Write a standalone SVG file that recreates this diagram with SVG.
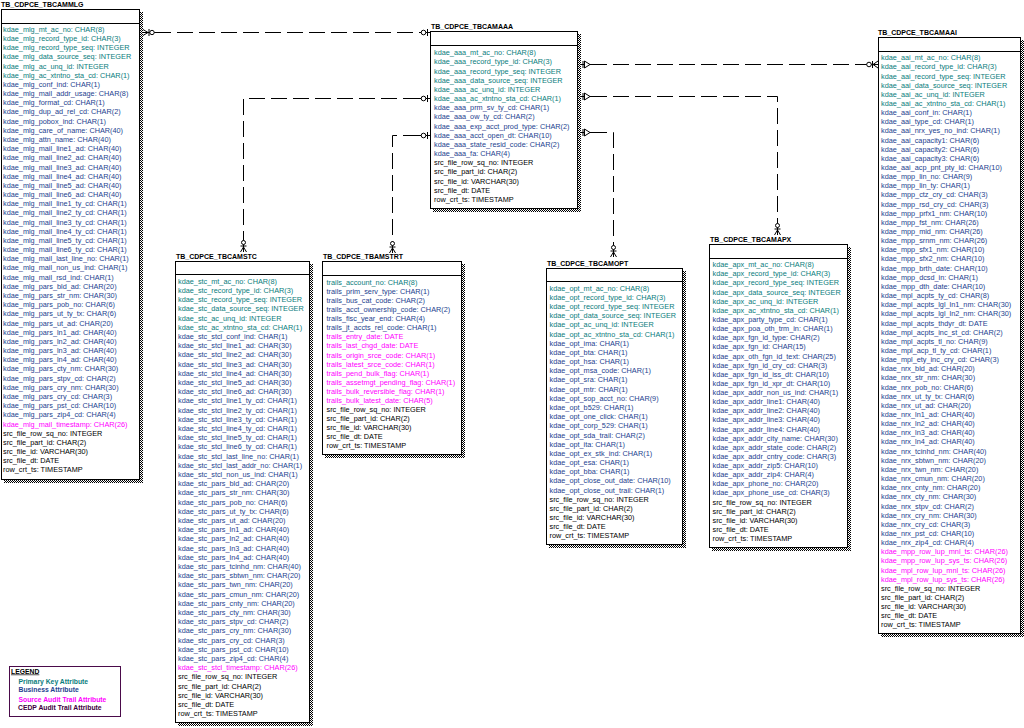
<svg xmlns="http://www.w3.org/2000/svg" width="1024" height="728" viewBox="0 0 1024 728">
<defs>
<pattern id="dots" width="2" height="2" patternUnits="userSpaceOnUse"><rect width="2" height="2" fill="#fff"/><rect width="1" height="1" fill="#000"/><rect x="1" y="1" width="1" height="1" fill="#000"/></pattern>
<style>
.t{font-family:"Liberation Sans",Arial,sans-serif;font-size:7.3px}
.title{font-family:"Liberation Sans",Arial,sans-serif;font-size:7px;font-weight:bold;fill:#000}
.pk{fill:#0a7d7d}.bz{fill:#1e3f8f}.sa{fill:#ff00ff}.ce{fill:#000}
.box{fill:#fff;stroke:#000;stroke-width:1}
.hdr{stroke:#000;stroke-width:1}
.sh{fill:url(#dots)}
.ln{fill:none;stroke:#000;stroke-width:1;stroke-dasharray:16 6}
.mk{fill:none;stroke:#000;stroke-width:1}
.mkw{fill:#fff;stroke:#000;stroke-width:1}
.lg{font-family:"Liberation Sans",Arial,sans-serif;font-size:6.8px;font-weight:bold}
</style>
</defs>
<rect width="1024" height="728" fill="#fff"/>

<g id="connectors">
<path class="ln" d="M155 32.5 H419"/>
<path class="ln" d="M419 98.5 H243.5 V240"/>
<path class="ln" d="M419 135.5 H392.5 V241"/>
<path class="ln" d="M591 64.5 H866"/>
<path class="ln" d="M591 96.5 H777.5 V223"/>
<path class="ln" d="M591 132.5 H613.5 V245"/>
<path class="mk" d="M143 29.5 L148 32.5 L143 35.5 M143 32.5 H155 M149 29 V36"/>
<circle class="mkw" cx="152" cy="32.5" r="2.2"/>
<g class="mk"><path d="M419 32.5 H431 M427.5 29 V36"/><circle class="mkw" cx="423.5" cy="32.5" r="2.3"/></g>
<g class="mk"><path d="M419 98.5 H431 M427.5 95 V102"/><circle class="mkw" cx="423.5" cy="98.5" r="2.3"/></g>
<g class="mk"><path d="M419 135.5 H431 M427.5 132 V139"/><circle class="mkw" cx="423.5" cy="135.5" r="2.3"/></g>
<g class="mk"><path d="M581 64.5 H592 M583 61 V68"/><path class="mkw" d="M584.5 61 L590 64.5 L584.5 68 Z"/></g>
<g class="mk"><path d="M581 96.5 H592 M583 93 V100"/><path class="mkw" d="M584.5 93 L590 96.5 L584.5 100 Z"/></g>
<g class="mk"><path d="M581 132.5 H592 M583 129 V136"/><path class="mkw" d="M584.5 129 L590 132.5 L584.5 136 Z"/></g>
<path class="mk" d="M866 64.5 H878 M873 64.5 L878 61 M873 64.5 L878 68 M872.5 61 V68"/>
<circle class="mkw" cx="869" cy="64.5" r="2.3"/>
<path class="mk" d="M243.5 240 V252 M243.5 247 L240.5 252 M243.5 247 L246.5 252 M240.5 246 H246.5"/>
<circle class="mkw" cx="243.5" cy="242.5" r="2"/>
<path class="mk" d="M392.5 241 V253 M392.5 248 L389.5 253 M392.5 248 L395.5 253 M389.5 247 H395.5"/>
<circle class="mkw" cx="392.5" cy="243.5" r="2"/>
<path class="mk" d="M613.5 245 V257 M613.5 252 L610.5 257 M613.5 252 L616.5 257 M610.5 251 H616.5"/>
<circle class="mkw" cx="613.5" cy="247.5" r="2"/>
<path class="mk" d="M777.5 223 V235 M777.5 230 L774.5 235 M777.5 230 L780.5 235 M774.5 229 H780.5"/>
<circle class="mkw" cx="777.5" cy="225.5" r="2"/>
</g>

<g id="tbl-mlg">
<text class="title" x="1" y="7">TB_CDPCE_TBCAMMLG</text>
<rect class="sh" x="140" y="12" width="3" height="471"/><rect class="sh" x="4" y="480" width="139" height="3"/>
<rect class="box" x="1.5" y="9.5" width="138" height="470"/>
<line class="hdr" x1="1.5" y1="23.5" x2="139.5" y2="23.5"/>
<text class="t" x="3" y="31.8">
<tspan class="pk" x="3">kdae_mlg_mt_ac_no: CHAR(8)</tspan>
<tspan class="pk" x="3" dy="9.18">kdae_mlg_record_type_id: CHAR(3)</tspan>
<tspan class="pk" x="3" dy="9.18">kdae_mlg_record_type_seq: INTEGER</tspan>
<tspan class="pk" x="3" dy="9.18">kdae_mlg_data_source_seq: INTEGER</tspan>
<tspan class="pk" x="3" dy="9.18">kdae_mlg_ac_unq_id: INTEGER</tspan>
<tspan class="pk" x="3" dy="9.18">kdae_mlg_ac_xtntno_sta_cd: CHAR(1)</tspan>
<tspan class="bz" x="3" dy="9.18">kdae_mlg_conf_ind: CHAR(1)</tspan>
<tspan class="bz" x="3" dy="9.18">kdae_mlg_mail_addr_usage: CHAR(8)</tspan>
<tspan class="bz" x="3" dy="9.18">kdae_mlg_format_cd: CHAR(1)</tspan>
<tspan class="bz" x="3" dy="9.18">kdae_mlg_dup_ad_rel_cd: CHAR(2)</tspan>
<tspan class="bz" x="3" dy="9.18">kdae_mlg_pobox_ind: CHAR(1)</tspan>
<tspan class="bz" x="3" dy="9.18">kdae_mlg_care_of_name: CHAR(40)</tspan>
<tspan class="bz" x="3" dy="9.18">kdae_mlg_attn_name: CHAR(40)</tspan>
<tspan class="bz" x="3" dy="9.18">kdae_mlg_mail_line1_ad: CHAR(40)</tspan>
<tspan class="bz" x="3" dy="9.18">kdae_mlg_mail_line2_ad: CHAR(40)</tspan>
<tspan class="bz" x="3" dy="9.18">kdae_mlg_mail_line3_ad: CHAR(40)</tspan>
<tspan class="bz" x="3" dy="9.18">kdae_mlg_mail_line4_ad: CHAR(40)</tspan>
<tspan class="bz" x="3" dy="9.18">kdae_mlg_mail_line5_ad: CHAR(40)</tspan>
<tspan class="bz" x="3" dy="9.18">kdae_mlg_mail_line6_ad: CHAR(40)</tspan>
<tspan class="bz" x="3" dy="9.18">kdae_mlg_mail_line1_ty_cd: CHAR(1)</tspan>
<tspan class="bz" x="3" dy="9.18">kdae_mlg_mail_line2_ty_cd: CHAR(1)</tspan>
<tspan class="bz" x="3" dy="9.18">kdae_mlg_mail_line3_ty_cd: CHAR(1)</tspan>
<tspan class="bz" x="3" dy="9.18">kdae_mlg_mail_line4_ty_cd: CHAR(1)</tspan>
<tspan class="bz" x="3" dy="9.18">kdae_mlg_mail_line5_ty_cd: CHAR(1)</tspan>
<tspan class="bz" x="3" dy="9.18">kdae_mlg_mail_line6_ty_cd: CHAR(1)</tspan>
<tspan class="bz" x="3" dy="9.18">kdae_mlg_mail_last_line_no: CHAR(1)</tspan>
<tspan class="bz" x="3" dy="9.18">kdae_mlg_mail_non_us_ind: CHAR(1)</tspan>
<tspan class="bz" x="3" dy="9.18">kdae_mlg_mail_rsd_ind: CHAR(1)</tspan>
<tspan class="bz" x="3" dy="9.18">kdae_mlg_pars_bld_ad: CHAR(20)</tspan>
<tspan class="bz" x="3" dy="9.18">kdae_mlg_pars_str_nm: CHAR(30)</tspan>
<tspan class="bz" x="3" dy="9.18">kdae_mlg_pars_pob_no: CHAR(6)</tspan>
<tspan class="bz" x="3" dy="9.18">kdae_mlg_pars_ut_ty_tx: CHAR(6)</tspan>
<tspan class="bz" x="3" dy="9.18">kdae_mlg_pars_ut_ad: CHAR(20)</tspan>
<tspan class="bz" x="3" dy="9.18">kdae_mlg_pars_ln1_ad: CHAR(40)</tspan>
<tspan class="bz" x="3" dy="9.18">kdae_mlg_pars_ln2_ad: CHAR(40)</tspan>
<tspan class="bz" x="3" dy="9.18">kdae_mlg_pars_ln3_ad: CHAR(40)</tspan>
<tspan class="bz" x="3" dy="9.18">kdae_mlg_pars_ln4_ad: CHAR(40)</tspan>
<tspan class="bz" x="3" dy="9.18">kdae_mlg_pars_cty_nm: CHAR(30)</tspan>
<tspan class="bz" x="3" dy="9.18">kdae_mlg_pars_stpv_cd: CHAR(2)</tspan>
<tspan class="bz" x="3" dy="9.18">kdae_mlg_pars_cry_nm: CHAR(30)</tspan>
<tspan class="bz" x="3" dy="9.18">kdae_mlg_pars_cry_cd: CHAR(3)</tspan>
<tspan class="bz" x="3" dy="9.18">kdae_mlg_pars_pst_cd: CHAR(10)</tspan>
<tspan class="bz" x="3" dy="9.18">kdae_mlg_pars_zip4_cd: CHAR(4)</tspan>
<tspan class="sa" x="3" dy="9.18">kdae_mlg_mail_timestamp: CHAR(26)</tspan>
<tspan class="ce" x="3" dy="9.18">src_file_row_sq_no: INTEGER</tspan>
<tspan class="ce" x="3" dy="9.18">src_file_part_id: CHAR(2)</tspan>
<tspan class="ce" x="3" dy="9.18">src_file_id: VARCHAR(30)</tspan>
<tspan class="ce" x="3" dy="9.18">src_file_dt: DATE</tspan>
<tspan class="ce" x="3" dy="9.18">row_crt_ts: TIMESTAMP</tspan>
</text>
</g>

<g id="tbl-aaa">
<text class="title" x="431" y="28.5">TB_CDPCE_TBCAMAAA</text>
<rect class="sh" x="578" y="34" width="3" height="178"/><rect class="sh" x="433" y="209" width="148" height="3"/>
<rect class="box" x="430.5" y="31.5" width="147" height="177"/>
<line class="hdr" x1="430.5" y1="45.5" x2="577.5" y2="45.5"/>
<text class="t" x="434" y="55.2">
<tspan class="pk" x="434">kdae_aaa_mt_ac_no: CHAR(8)</tspan>
<tspan class="pk" x="434" dy="9.17">kdae_aaa_record_type_id: CHAR(3)</tspan>
<tspan class="pk" x="434" dy="9.17">kdae_aaa_record_type_seq: INTEGER</tspan>
<tspan class="pk" x="434" dy="9.17">kdae_aaa_data_source_seq: INTEGER</tspan>
<tspan class="pk" x="434" dy="9.17">kdae_aaa_ac_unq_id: INTEGER</tspan>
<tspan class="pk" x="434" dy="9.17">kdae_aaa_ac_xtntno_sta_cd: CHAR(1)</tspan>
<tspan class="bz" x="434" dy="9.17">kdae_aaa_prm_sv_ty_cd: CHAR(1)</tspan>
<tspan class="bz" x="434" dy="9.17">kdae_aaa_ow_ty_cd: CHAR(2)</tspan>
<tspan class="bz" x="434" dy="9.17">kdae_aaa_exp_acct_prod_type: CHAR(2)</tspan>
<tspan class="bz" x="434" dy="9.17">kdae_aaa_acct_open_dt: CHAR(10)</tspan>
<tspan class="bz" x="434" dy="9.17">kdae_aaa_state_resid_code: CHAR(2)</tspan>
<tspan class="bz" x="434" dy="9.17">kdae_aaa_fa: CHAR(4)</tspan>
<tspan class="ce" x="434" dy="9.17">src_file_row_sq_no: INTEGER</tspan>
<tspan class="ce" x="434" dy="9.17">src_file_part_id: CHAR(2)</tspan>
<tspan class="ce" x="434" dy="9.17">src_file_id: VARCHAR(30)</tspan>
<tspan class="ce" x="434" dy="9.17">src_file_dt: DATE</tspan>
<tspan class="ce" x="434" dy="9.17">row_crt_ts: TIMESTAMP</tspan>
</text>
</g>

<g id="tbl-aai">
<text class="title" x="878" y="34.5">TB_CDPCE_TBCAMAAI</text>
<rect class="sh" x="1021" y="40" width="3" height="597"/><rect class="sh" x="881" y="634" width="143" height="3"/>
<rect class="box" x="878.5" y="37.5" width="142" height="596"/>
<line class="hdr" x1="878.5" y1="51.5" x2="1020.5" y2="51.5"/>
<text class="t" x="881" y="60.2">
<tspan class="pk" x="881">kdae_aai_mt_ac_no: CHAR(8)</tspan>
<tspan class="pk" x="881" dy="9.15">kdae_aai_record_type_id: CHAR(3)</tspan>
<tspan class="pk" x="881" dy="9.15">kdae_aai_record_type_seq: INTEGER</tspan>
<tspan class="pk" x="881" dy="9.15">kdae_aai_data_source_seq: INTEGER</tspan>
<tspan class="pk" x="881" dy="9.15">kdae_aai_ac_unq_id: INTEGER</tspan>
<tspan class="pk" x="881" dy="9.15">kdae_aai_ac_xtntno_sta_cd: CHAR(1)</tspan>
<tspan class="bz" x="881" dy="9.15">kdae_aai_conf_in: CHAR(1)</tspan>
<tspan class="bz" x="881" dy="9.15">kdae_aai_type_cd: CHAR(1)</tspan>
<tspan class="bz" x="881" dy="9.15">kdae_aai_nrx_yes_no_ind: CHAR(1)</tspan>
<tspan class="bz" x="881" dy="9.15">kdae_aai_capacity1: CHAR(6)</tspan>
<tspan class="bz" x="881" dy="9.15">kdae_aai_capacity2: CHAR(6)</tspan>
<tspan class="bz" x="881" dy="9.15">kdae_aai_capacity3: CHAR(6)</tspan>
<tspan class="bz" x="881" dy="9.15">kdae_aai_acp_pnt_pty_id: CHAR(10)</tspan>
<tspan class="bz" x="881" dy="9.15">kdae_mpp_lin_no: CHAR(9)</tspan>
<tspan class="bz" x="881" dy="9.15">kdae_mpp_lin_ty: CHAR(1)</tspan>
<tspan class="bz" x="881" dy="9.15">kdae_mpp_ctz_cry_cd: CHAR(3)</tspan>
<tspan class="bz" x="881" dy="9.15">kdae_mpp_rsd_cry_cd: CHAR(3)</tspan>
<tspan class="bz" x="881" dy="9.15">kdae_mpp_prfx1_nm: CHAR(10)</tspan>
<tspan class="bz" x="881" dy="9.15">kdae_mpp_fst_nm: CHAR(26)</tspan>
<tspan class="bz" x="881" dy="9.15">kdae_mpp_mid_nm: CHAR(26)</tspan>
<tspan class="bz" x="881" dy="9.15">kdae_mpp_srnm_nm: CHAR(26)</tspan>
<tspan class="bz" x="881" dy="9.15">kdae_mpp_sfx1_nm: CHAR(10)</tspan>
<tspan class="bz" x="881" dy="9.15">kdae_mpp_sfx2_nm: CHAR(10)</tspan>
<tspan class="bz" x="881" dy="9.15">kdae_mpp_brth_date: CHAR(10)</tspan>
<tspan class="bz" x="881" dy="9.15">kdae_mpp_dcsd_in: CHAR(1)</tspan>
<tspan class="bz" x="881" dy="9.15">kdae_mpp_dth_date: CHAR(10)</tspan>
<tspan class="bz" x="881" dy="9.15">kdae_mpl_acpts_ty_cd: CHAR(8)</tspan>
<tspan class="bz" x="881" dy="9.15">kdae_mpl_acpts_lgl_ln1_nm: CHAR(30)</tspan>
<tspan class="bz" x="881" dy="9.15">kdae_mpl_acpts_lgl_ln2_nm: CHAR(30)</tspan>
<tspan class="bz" x="881" dy="9.15">kdae_mpl_acpts_thdyr_dt: DATE</tspan>
<tspan class="bz" x="881" dy="9.15">kdae_mpl_acpts_inc_st_cd: CHAR(2)</tspan>
<tspan class="bz" x="881" dy="9.15">kdae_mpl_acpts_tl_no: CHAR(9)</tspan>
<tspan class="bz" x="881" dy="9.15">kdae_mpl_acp_tl_ty_cd: CHAR(1)</tspan>
<tspan class="bz" x="881" dy="9.15">kdae_mpl_ety_inc_cry_cd: CHAR(3)</tspan>
<tspan class="bz" x="881" dy="9.15">kdae_nrx_bld_ad: CHAR(20)</tspan>
<tspan class="bz" x="881" dy="9.15">kdae_nrx_str_nm: CHAR(30)</tspan>
<tspan class="bz" x="881" dy="9.15">kdae_nrx_pob_no: CHAR(6)</tspan>
<tspan class="bz" x="881" dy="9.15">kdae_nrx_ut_ty_tx: CHAR(6)</tspan>
<tspan class="bz" x="881" dy="9.15">kdae_nrx_ut_ad: CHAR(20)</tspan>
<tspan class="bz" x="881" dy="9.15">kdae_nrx_ln1_ad: CHAR(40)</tspan>
<tspan class="bz" x="881" dy="9.15">kdae_nrx_ln2_ad: CHAR(40)</tspan>
<tspan class="bz" x="881" dy="9.15">kdae_nrx_ln3_ad: CHAR(40)</tspan>
<tspan class="bz" x="881" dy="9.15">kdae_nrx_ln4_ad: CHAR(40)</tspan>
<tspan class="bz" x="881" dy="9.15">kdae_nrx_tcinhd_nm: CHAR(40)</tspan>
<tspan class="bz" x="881" dy="9.15">kdae_nrx_sbtwn_nm: CHAR(20)</tspan>
<tspan class="bz" x="881" dy="9.15">kdae_nrx_twn_nm: CHAR(20)</tspan>
<tspan class="bz" x="881" dy="9.15">kdae_nrx_cmun_nm: CHAR(20)</tspan>
<tspan class="bz" x="881" dy="9.15">kdae_nrx_cnty_nm: CHAR(20)</tspan>
<tspan class="bz" x="881" dy="9.15">kdae_nrx_cty_nm: CHAR(30)</tspan>
<tspan class="bz" x="881" dy="9.15">kdae_nrx_stpv_cd: CHAR(2)</tspan>
<tspan class="bz" x="881" dy="9.15">kdae_nrx_cry_nm: CHAR(30)</tspan>
<tspan class="bz" x="881" dy="9.15">kdae_nrx_cry_cd: CHAR(3)</tspan>
<tspan class="bz" x="881" dy="9.15">kdae_nrx_pst_cd: CHAR(10)</tspan>
<tspan class="bz" x="881" dy="9.15">kdae_nrx_zip4_cd: CHAR(4)</tspan>
<tspan class="sa" x="881" dy="9.15">kdae_mpp_row_lup_mnl_ts: CHAR(26)</tspan>
<tspan class="sa" x="881" dy="9.15">kdae_mpp_row_lup_sys_ts: CHAR(26)</tspan>
<tspan class="sa" x="881" dy="9.15">kdae_mpl_row_lup_mnl_ts: CHAR(26)</tspan>
<tspan class="sa" x="881" dy="9.15">kdae_mpl_row_lup_sys_ts: CHAR(26)</tspan>
<tspan class="ce" x="881" dy="9.15">src_file_row_sq_no: INTEGER</tspan>
<tspan class="ce" x="881" dy="9.15">src_file_part_id: CHAR(2)</tspan>
<tspan class="ce" x="881" dy="9.15">src_file_id: VARCHAR(30)</tspan>
<tspan class="ce" x="881" dy="9.15">src_file_dt: DATE</tspan>
<tspan class="ce" x="881" dy="9.15">row_crt_ts: TIMESTAMP</tspan>
</text>
</g>

<g id="tbl-stc">
<text class="title" x="176" y="258.5">TB_CDPCE_TBCAMSTC</text>
<rect class="sh" x="310" y="264" width="3" height="462"/><rect class="sh" x="178" y="723" width="135" height="3"/>
<rect class="box" x="175.5" y="261.5" width="134" height="461"/>
<line class="hdr" x1="175.5" y1="274.5" x2="309.5" y2="274.5"/>
<text class="t" x="178" y="283.8">
<tspan class="pk" x="178">kdae_stc_mt_ac_no: CHAR(8)</tspan>
<tspan class="pk" x="178" dy="9.2">kdae_stc_record_type_id: CHAR(3)</tspan>
<tspan class="pk" x="178" dy="9.2">kdae_stc_record_type_seq: INTEGER</tspan>
<tspan class="pk" x="178" dy="9.2">kdae_stc_data_source_seq: INTEGER</tspan>
<tspan class="pk" x="178" dy="9.2">kdae_stc_ac_unq_id: INTEGER</tspan>
<tspan class="pk" x="178" dy="9.2">kdae_stc_ac_xtntno_sta_cd: CHAR(1)</tspan>
<tspan class="bz" x="178" dy="9.2">kdae_stc_stcl_conf_ind: CHAR(1)</tspan>
<tspan class="bz" x="178" dy="9.2">kdae_stc_stcl_line1_ad: CHAR(30)</tspan>
<tspan class="bz" x="178" dy="9.2">kdae_stc_stcl_line2_ad: CHAR(30)</tspan>
<tspan class="bz" x="178" dy="9.2">kdae_stc_stcl_line3_ad: CHAR(30)</tspan>
<tspan class="bz" x="178" dy="9.2">kdae_stc_stcl_line4_ad: CHAR(30)</tspan>
<tspan class="bz" x="178" dy="9.2">kdae_stc_stcl_line5_ad: CHAR(30)</tspan>
<tspan class="bz" x="178" dy="9.2">kdae_stc_stcl_line6_ad: CHAR(30)</tspan>
<tspan class="bz" x="178" dy="9.2">kdae_stc_stcl_line1_ty_cd: CHAR(1)</tspan>
<tspan class="bz" x="178" dy="9.2">kdae_stc_stcl_line2_ty_cd: CHAR(1)</tspan>
<tspan class="bz" x="178" dy="9.2">kdae_stc_stcl_line3_ty_cd: CHAR(1)</tspan>
<tspan class="bz" x="178" dy="9.2">kdae_stc_stcl_line4_ty_cd: CHAR(1)</tspan>
<tspan class="bz" x="178" dy="9.2">kdae_stc_stcl_line5_ty_cd: CHAR(1)</tspan>
<tspan class="bz" x="178" dy="9.2">kdae_stc_stcl_line6_ty_cd: CHAR(1)</tspan>
<tspan class="bz" x="178" dy="9.2">kdae_stc_stcl_last_line_no: CHAR(1)</tspan>
<tspan class="bz" x="178" dy="9.2">kdae_stc_stcl_last_addr_no: CHAR(1)</tspan>
<tspan class="bz" x="178" dy="9.2">kdae_stc_stcl_non_us_ind: CHAR(1)</tspan>
<tspan class="bz" x="178" dy="9.2">kdae_stc_pars_bld_ad: CHAR(20)</tspan>
<tspan class="bz" x="178" dy="9.2">kdae_stc_pars_str_nm: CHAR(30)</tspan>
<tspan class="bz" x="178" dy="9.2">kdae_stc_pars_pob_no: CHAR(6)</tspan>
<tspan class="bz" x="178" dy="9.2">kdae_stc_pars_ut_ty_tx: CHAR(6)</tspan>
<tspan class="bz" x="178" dy="9.2">kdae_stc_pars_ut_ad: CHAR(20)</tspan>
<tspan class="bz" x="178" dy="9.2">kdae_stc_pars_ln1_ad: CHAR(40)</tspan>
<tspan class="bz" x="178" dy="9.2">kdae_stc_pars_ln2_ad: CHAR(40)</tspan>
<tspan class="bz" x="178" dy="9.2">kdae_stc_pars_ln3_ad: CHAR(40)</tspan>
<tspan class="bz" x="178" dy="9.2">kdae_stc_pars_ln4_ad: CHAR(40)</tspan>
<tspan class="bz" x="178" dy="9.2">kdae_stc_pars_tcinhd_nm: CHAR(40)</tspan>
<tspan class="bz" x="178" dy="9.2">kdae_stc_pars_sbtwn_nm: CHAR(20)</tspan>
<tspan class="bz" x="178" dy="9.2">kdae_stc_pars_twn_nm: CHAR(20)</tspan>
<tspan class="bz" x="178" dy="9.2">kdae_stc_pars_cmun_nm: CHAR(20)</tspan>
<tspan class="bz" x="178" dy="9.2">kdae_stc_pars_cnty_nm: CHAR(20)</tspan>
<tspan class="bz" x="178" dy="9.2">kdae_stc_pars_cty_nm: CHAR(30)</tspan>
<tspan class="bz" x="178" dy="9.2">kdae_stc_pars_stpv_cd: CHAR(2)</tspan>
<tspan class="bz" x="178" dy="9.2">kdae_stc_pars_cry_nm: CHAR(30)</tspan>
<tspan class="bz" x="178" dy="9.2">kdae_stc_pars_cry_cd: CHAR(3)</tspan>
<tspan class="bz" x="178" dy="9.2">kdae_stc_pars_pst_cd: CHAR(10)</tspan>
<tspan class="bz" x="178" dy="9.2">kdae_stc_pars_zip4_cd: CHAR(4)</tspan>
<tspan class="sa" x="178" dy="9.2">kdae_stc_stcl_timestamp: CHAR(26)</tspan>
<tspan class="ce" x="178" dy="9.2">src_file_row_sq_no: INTEGER</tspan>
<tspan class="ce" x="178" dy="9.2">src_file_part_id: CHAR(2)</tspan>
<tspan class="ce" x="178" dy="9.2">src_file_id: VARCHAR(30)</tspan>
<tspan class="ce" x="178" dy="9.2">src_file_dt: DATE</tspan>
<tspan class="ce" x="178" dy="9.2">row_crt_ts: TIMESTAMP</tspan>
</text>
</g>

<g id="tbl-strt">
<text class="title" x="323" y="258.5">TB_CDPCE_TBAMSTRT</text>
<rect class="sh" x="462" y="264" width="3" height="194"/><rect class="sh" x="325" y="455" width="140" height="3"/>
<rect class="box" x="322.5" y="261.5" width="139" height="193"/>
<line class="hdr" x1="322.5" y1="275.5" x2="461.5" y2="275.5"/>
<text class="t" x="326.5" y="284.8">
<tspan class="pk" x="326.5">trails_account_no: CHAR(8)</tspan>
<tspan class="bz" x="326.5" dy="9.09">trails_prim_serv_type: CHAR(1)</tspan>
<tspan class="bz" x="326.5" dy="9.09">trails_bus_cat_code: CHAR(2)</tspan>
<tspan class="bz" x="326.5" dy="9.09">trails_acct_ownership_code: CHAR(2)</tspan>
<tspan class="bz" x="326.5" dy="9.09">trails_fisc_year_end: CHAR(4)</tspan>
<tspan class="bz" x="326.5" dy="9.09">trails_jt_accts_rel_code: CHAR(1)</tspan>
<tspan class="sa" x="326.5" dy="9.09">trails_entry_date: DATE</tspan>
<tspan class="sa" x="326.5" dy="9.09">trails_last_chgd_date: DATE</tspan>
<tspan class="sa" x="326.5" dy="9.09">trails_origin_srce_code: CHAR(1)</tspan>
<tspan class="sa" x="326.5" dy="9.09">trails_latest_srce_code: CHAR(1)</tspan>
<tspan class="sa" x="326.5" dy="9.09">trails_pend_bulk_flag: CHAR(1)</tspan>
<tspan class="sa" x="326.5" dy="9.09">trails_assetmgt_pending_flag: CHAR(1)</tspan>
<tspan class="sa" x="326.5" dy="9.09">trails_bulk_reversible_flag: CHAR(1)</tspan>
<tspan class="sa" x="326.5" dy="9.09">trails_bulk_latest_date: CHAR(5)</tspan>
<tspan class="ce" x="326.5" dy="9.09">src_file_row_sq_no: INTEGER</tspan>
<tspan class="ce" x="326.5" dy="9.09">src_file_part_id: CHAR(2)</tspan>
<tspan class="ce" x="326.5" dy="9.09">src_file_id: VARCHAR(30)</tspan>
<tspan class="ce" x="326.5" dy="9.09">src_file_dt: DATE</tspan>
<tspan class="ce" x="326.5" dy="9.09">row_crt_ts: TIMESTAMP</tspan>
</text>
</g>

<g id="tbl-opt">
<text class="title" x="547" y="265.8">TB_CDPCE_TBCAMOPT</text>
<rect class="sh" x="683" y="271" width="3" height="277"/><rect class="sh" x="549" y="545" width="137" height="3"/>
<rect class="box" x="546.5" y="268.5" width="136" height="276"/>
<line class="hdr" x1="546.5" y1="281.5" x2="682.5" y2="281.5"/>
<text class="t" x="549.5" y="290.8">
<tspan class="pk" x="549.5">kdae_opt_mt_ac_no: CHAR(8)</tspan>
<tspan class="pk" x="549.5" dy="9.17">kdae_opt_record_type_id: CHAR(3)</tspan>
<tspan class="pk" x="549.5" dy="9.17">kdae_opt_record_type_seq: INTEGER</tspan>
<tspan class="pk" x="549.5" dy="9.17">kdae_opt_data_source_seq: INTEGER</tspan>
<tspan class="pk" x="549.5" dy="9.17">kdae_opt_ac_unq_id: INTEGER</tspan>
<tspan class="pk" x="549.5" dy="9.17">kdae_opt_ac_xtntno_sta_cd: CHAR(1)</tspan>
<tspan class="bz" x="549.5" dy="9.17">kdae_opt_ima: CHAR(1)</tspan>
<tspan class="bz" x="549.5" dy="9.17">kdae_opt_bta: CHAR(1)</tspan>
<tspan class="bz" x="549.5" dy="9.17">kdae_opt_hsa: CHAR(1)</tspan>
<tspan class="bz" x="549.5" dy="9.17">kdae_opt_msa_code: CHAR(1)</tspan>
<tspan class="bz" x="549.5" dy="9.17">kdae_opt_sra: CHAR(1)</tspan>
<tspan class="bz" x="549.5" dy="9.17">kdae_opt_mtr: CHAR(1)</tspan>
<tspan class="bz" x="549.5" dy="9.17">kdae_opt_sop_acct_no: CHAR(9)</tspan>
<tspan class="bz" x="549.5" dy="9.17">kdae_opt_b529: CHAR(1)</tspan>
<tspan class="bz" x="549.5" dy="9.17">kdae_opt_one_click: CHAR(1)</tspan>
<tspan class="bz" x="549.5" dy="9.17">kdae_opt_corp_529: CHAR(1)</tspan>
<tspan class="bz" x="549.5" dy="9.17">kdae_opt_sda_trail: CHAR(2)</tspan>
<tspan class="bz" x="549.5" dy="9.17">kdae_opt_ita: CHAR(1)</tspan>
<tspan class="bz" x="549.5" dy="9.17">kdae_opt_ex_stk_ind: CHAR(1)</tspan>
<tspan class="bz" x="549.5" dy="9.17">kdae_opt_esa: CHAR(1)</tspan>
<tspan class="bz" x="549.5" dy="9.17">kdae_opt_bba: CHAR(1)</tspan>
<tspan class="bz" x="549.5" dy="9.17">kdae_opt_close_out_date: CHAR(10)</tspan>
<tspan class="bz" x="549.5" dy="9.17">kdae_opt_close_out_trail: CHAR(1)</tspan>
<tspan class="ce" x="549.5" dy="9.17">src_file_row_sq_no: INTEGER</tspan>
<tspan class="ce" x="549.5" dy="9.17">src_file_part_id: CHAR(2)</tspan>
<tspan class="ce" x="549.5" dy="9.17">src_file_id: VARCHAR(30)</tspan>
<tspan class="ce" x="549.5" dy="9.17">src_file_dt: DATE</tspan>
<tspan class="ce" x="549.5" dy="9.17">row_crt_ts: TIMESTAMP</tspan>
</text>
</g>

<g id="tbl-apx">
<text class="title" x="710" y="241.8">TB_CDPCE_TBCAMAPX</text>
<rect class="sh" x="848" y="247" width="3" height="304"/><rect class="sh" x="712" y="548" width="139" height="3"/>
<rect class="box" x="709.5" y="244.5" width="138" height="303"/>
<line class="hdr" x1="709.5" y1="258.5" x2="847.5" y2="258.5"/>
<text class="t" x="712.5" y="267.2">
<tspan class="pk" x="712.5">kdae_apx_mt_ac_no: CHAR(8)</tspan>
<tspan class="pk" x="712.5" dy="9.13">kdae_apx_record_type_id: CHAR(3)</tspan>
<tspan class="pk" x="712.5" dy="9.13">kdae_apx_record_type_seq: INTEGER</tspan>
<tspan class="pk" x="712.5" dy="9.13">kdae_apx_data_source_seq: INTEGER</tspan>
<tspan class="pk" x="712.5" dy="9.13">kdae_apx_ac_unq_id: INTEGER</tspan>
<tspan class="pk" x="712.5" dy="9.13">kdae_apx_ac_xtntno_sta_cd: CHAR(1)</tspan>
<tspan class="bz" x="712.5" dy="9.13">kdae_apx_party_type_cd: CHAR(1)</tspan>
<tspan class="bz" x="712.5" dy="9.13">kdae_apx_poa_oth_trm_in: CHAR(1)</tspan>
<tspan class="bz" x="712.5" dy="9.13">kdae_apx_fgn_id_type: CHAR(2)</tspan>
<tspan class="bz" x="712.5" dy="9.13">kdae_apx_fgn_id: CHAR(15)</tspan>
<tspan class="bz" x="712.5" dy="9.13">kdae_apx_oth_fgn_id_text: CHAR(25)</tspan>
<tspan class="bz" x="712.5" dy="9.13">kdae_apx_fgn_id_cry_cd: CHAR(3)</tspan>
<tspan class="bz" x="712.5" dy="9.13">kdae_apx_fgn_id_iss_dt: CHAR(10)</tspan>
<tspan class="bz" x="712.5" dy="9.13">kdae_apx_fgn_id_xpr_dt: CHAR(10)</tspan>
<tspan class="bz" x="712.5" dy="9.13">kdae_apx_addr_non_us_ind: CHAR(1)</tspan>
<tspan class="bz" x="712.5" dy="9.13">kdae_apx_addr_line1: CHAR(40)</tspan>
<tspan class="bz" x="712.5" dy="9.13">kdae_apx_addr_line2: CHAR(40)</tspan>
<tspan class="bz" x="712.5" dy="9.13">kdae_apx_addr_line3: CHAR(40)</tspan>
<tspan class="bz" x="712.5" dy="9.13">kdae_apx_addr_line4: CHAR(40)</tspan>
<tspan class="bz" x="712.5" dy="9.13">kdae_apx_addr_city_name: CHAR(30)</tspan>
<tspan class="bz" x="712.5" dy="9.13">kdae_apx_addr_state_code: CHAR(2)</tspan>
<tspan class="bz" x="712.5" dy="9.13">kdae_apx_addr_cntry_code: CHAR(3)</tspan>
<tspan class="bz" x="712.5" dy="9.13">kdae_apx_addr_zip5: CHAR(10)</tspan>
<tspan class="bz" x="712.5" dy="9.13">kdae_apx_addr_zip4: CHAR(4)</tspan>
<tspan class="bz" x="712.5" dy="9.13">kdae_apx_phone_no: CHAR(20)</tspan>
<tspan class="bz" x="712.5" dy="9.13">kdae_apx_phone_use_cd: CHAR(3)</tspan>
<tspan class="ce" x="712.5" dy="9.13">src_file_row_sq_no: INTEGER</tspan>
<tspan class="ce" x="712.5" dy="9.13">src_file_part_id: CHAR(2)</tspan>
<tspan class="ce" x="712.5" dy="9.13">src_file_id: VARCHAR(30)</tspan>
<tspan class="ce" x="712.5" dy="9.13">src_file_dt: DATE</tspan>
<tspan class="ce" x="712.5" dy="9.13">row_crt_ts: TIMESTAMP</tspan>
</text>
</g>

<g id="legend">
<rect x="9.5" y="666.5" width="111" height="50" fill="#fff" stroke="#4a0a4a" stroke-width="1"/>
<text class="lg" x="11" y="673.5" fill="#000" text-decoration="underline">LEGEND</text>
<text class="lg" x="18.5" y="684" fill="#0a7d7d">Primary Key Attribute</text>
<text class="lg" x="18.5" y="692" fill="#1e3f8f">Business Attribute</text>
<text class="lg" x="18.5" y="701.5" fill="#ff00ff">Source Audit Trail Attribute</text>
<text class="lg" x="18" y="710.2" fill="#400040">CEDP Audit Trail Attribute</text>
</g>
</svg>
